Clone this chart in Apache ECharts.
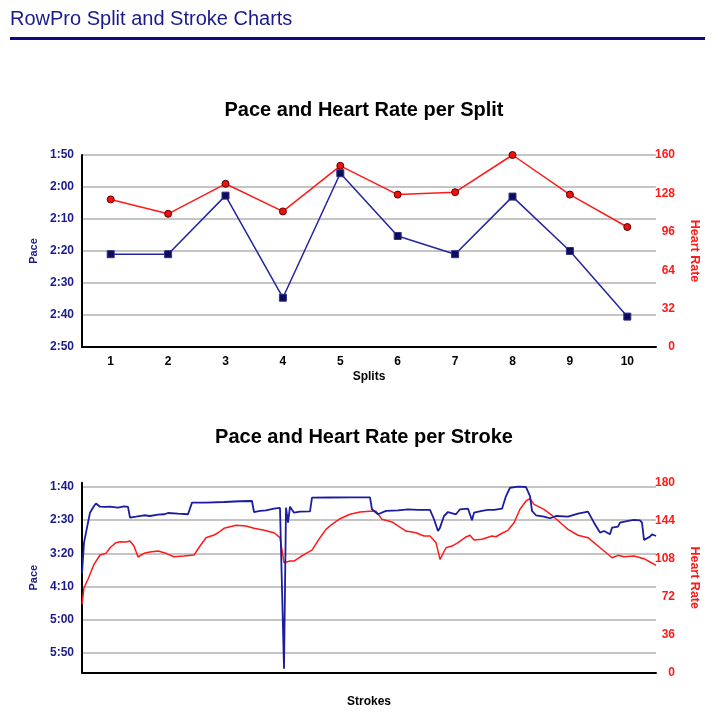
<!DOCTYPE html>
<html><head><meta charset="utf-8">
<script src="https://cdn.jsdelivr.net/npm/echarts@6/dist/echarts.min.js"></script>
<style>html,body{margin:0;padding:0;background:#fff}#c{width:718px;height:718px}</style>
</head><body><div id="c"></div>
<script>
// ---- Data ----
const splitCategories = ['1','2','3','4','5','6','7','8','9','10'];
const splitPace = [141, 141, 122.7, 154.6, 115.7, 135.3, 141, 123, 140, 160.5]; // seconds per 500m
const splitHeartRate = [123, 111, 136, 113, 151, 127, 129, 160, 127, 100];
const splitPaceTicks = [110, 120, 130, 140, 150, 160, 170];
const splitHeartRateTicks = [0, 32, 64, 96, 128, 160];

const strokePace = [
 [1,230.3],[2,183.9],[4,153.8],[5,138.7],[7,128.6],[8,124.8],[10,129.7],[12,130.1],[15,129.7],[19,131.2],
 [22,129.1],[24,130.1],[25,146.2],[28,144.7],[32,142.6],[35,143.7],[39,141.7],[42,141.1],[44,139.2],[49,140.2],
 [54,141.1],[56,123.6],[57,121.1],[63,123.6],[72,122.6],[80,121.5],[86,121.1],[87,137.7],[90,136.1],[93,135.1],
 [97,132.7],[100,131.6],[102,374.1],[103,131.2],[104,153.8],[105,129.7],[107,138.7],[110,137.2],[115,136.6],[116,116.1],
 [125,115.8],[135,115.5],[145,115.5],[146,133.6],[149,141.1],[153,136.1],[159,135.1],[164,133.6],[169,134.6],[175,134.6],
 [177,148.6],[179,166.3],[180,161.3],[182,143.7],[184,137.7],[188,141.1],[190,133.6],[194,132.7],[195,132.4],[196,150.2],
 [197,138.7],[201,136.1],[204,134.6],[207,134.6],[211,132.7],[212,133.6],[213,113.6],[215,101.1],[219,99.5],[223,100],
 [225,113.6],[226,136.1],[228,142.6],[232,144.7],[235,147.1],[238,143.7],[244,144.7],[249,140.2],[254,137.2],[255,137.2],
 [257,153.8],[259,163.7],[260,168.8],[262,166.3],[265,171.2],[266,161.3],[269,159.8],[270,153.8],[274,151.2],[277,149.7],
 [280,150.2],[281,153.8],[282,179.8],[285,174.8],[286,171.2],[288,173.8]
];
const strokeHeartRate = [
 [1,64.8],[2,80.5],[4,88.5],[7,102.7],[10,111.5],[13,113.1],[15,118.4],[18,123.2],[20,124.1],[23,123.8],
 [25,124.8],[27,120.0],[29,109.6],[32,113.1],[35,114.3],[39,115.3],[43,113.1],[47,109.9],[52,110.6],[57,111.5],
 [60,120.0],[63,127.9],[67,130.4],[69,132.6],[72,136.8],[75,138.3],[78,139.6],[83,139.0],[87,136.8],[92,134.9],
 [97,132.6],[100,127.9],[102,104.2],[105,105.8],[107,105.8],[110,109.6],[113,113.1],[116,116.2],[120,127.9],[123,135.8],
 [126,140.6],[130,145.9],[135,150.1],[140,152.2],[145,152.9],[148,152.9],[151,145.3],[156,142.8],[159,139.0],[163,134.2],
 [168,132.6],[172,129.5],[175,129.5],[178,123.2],[180,107.4],[183,118.4],[186,120.0],[189,123.2],[193,128.6],[195,130.2],
 [197,125.7],[201,126.4],[206,129.5],[208,128.8],[211,132.1],[214,134.9],[217,142.1],[220,154.8],[223,162.7],[225,164.8],
 [227,159.5],[232,154.8],[236,149.1],[241,140.6],[244,135.8],[249,130.2],[254,127.9],[259,120.0],[264,112.2],[266,108.9],
 [269,111.2],[272,109.9],[277,110.6],[282,108.0],[285,104.9],[288,101.7]
];
const strokeCount = 288;
const strokePaceTicks = [100, 150, 200, 250, 300, 350];
const strokeHeartRateTicks = [0, 36, 72, 108, 144, 180];

// ---- Chart ----
const FONT = '"Liberation Sans", Arial, Helvetica, sans-serif';
const NAVY = '#1a1a8c';
const RED = '#ff1a1a';
const GRIDC = '#b0b0b0';
function fmtPace(v){ const s = Math.round(v); return Math.floor(s/60) + ':' + String(s%60).padStart(2,'0'); }

const chart = echarts.init(document.getElementById('c'), null, {renderer:'canvas'});

const leftLabel = {color: NAVY, fontWeight:'bold', fontSize:12, fontFamily:FONT, margin:8, formatter: fmtPace};
const rightLabel = {color: RED, fontWeight:'bold', fontSize:12, fontFamily:FONT, align:'right', margin:19};
const axisLineBlack = {show:true, onZero:false, lineStyle:{color:'#000', width:2}};

chart.setOption({
  animation:false,
  backgroundColor:'#fff',
  graphic:[
    {type:'text', x:10, y:19, style:{text:'RowPro Split and Stroke Charts', font:'20px ' + FONT, fill:NAVY, align:'left', verticalAlign:'middle'}},
    {type:'rect', shape:{x:10, y:37, width:695, height:3}, style:{fill:'#0c0c80'}},
    {type:'text', x:364, y:110, style:{text:'Pace and Heart Rate per Split', font:'bold 20px ' + FONT, fill:'#000', align:'center', verticalAlign:'middle'}},
    {type:'text', x:364, y:437, style:{text:'Pace and Heart Rate per Stroke', font:'bold 20px ' + FONT, fill:'#000', align:'center', verticalAlign:'middle'}}
  ],
  grid:[
    {left:82, right:62, top:155, height:192},
    {left:82, right:62, top:482.7, height:190}
  ],
  xAxis:[
    {gridIndex:0, type:'category', data:splitCategories, boundaryGap:true,
     axisLine:axisLineBlack, axisTick:{show:false}, splitLine:{show:false},
     axisLabel:{color:'#000', fontWeight:'bold', fontSize:12, fontFamily:FONT, margin:9},
     name:'Splits', nameLocation:'middle', nameGap:24,
     nameTextStyle:{color:'#000', fontWeight:'bold', fontSize:12, fontFamily:FONT}},
    {gridIndex:1, type:'value', min:1, max:strokeCount,
     axisLine:axisLineBlack, axisTick:{show:false}, splitLine:{show:false}, axisLabel:{show:false},
     name:'Strokes', nameLocation:'middle', nameGap:23,
     nameTextStyle:{color:'#000', fontWeight:'bold', fontSize:12, fontFamily:FONT}}
  ],
  yAxis:[
    {gridIndex:0, type:'value', position:'left', inverse:true,
     min:splitPaceTicks[0], max:splitPaceTicks[splitPaceTicks.length-1], interval:splitPaceTicks[1]-splitPaceTicks[0],
     axisLine:axisLineBlack, axisTick:{show:false}, axisLabel:leftLabel,
     splitLine:{show:true, lineStyle:{color:GRIDC, width:1.5}},
     name:'Pace', nameLocation:'middle', nameGap:41, nameRotate:90,
     nameTextStyle:{color:NAVY, fontWeight:'bold', fontSize:11, fontFamily:FONT}},
    {gridIndex:0, type:'value', position:'right',
     min:splitHeartRateTicks[0], max:splitHeartRateTicks[splitHeartRateTicks.length-1], interval:splitHeartRateTicks[1]-splitHeartRateTicks[0],
     axisLine:{show:false}, axisTick:{show:false}, splitLine:{show:false}, axisLabel:rightLabel,
     name:'Heart Rate', nameLocation:'middle', nameGap:32, nameRotate:-90,
     nameTextStyle:{color:RED, fontWeight:'bold', fontSize:12.5, fontFamily:FONT}},
    {gridIndex:1, type:'value', position:'left', inverse:true, min:93.5, max:380,
     axisLine:axisLineBlack,
     axisTick:{show:false, customValues:strokePaceTicks},
     axisLabel:Object.assign({}, leftLabel, {customValues:strokePaceTicks}),
     splitLine:{show:true, lineStyle:{color:GRIDC, width:1.5}},
     name:'Pace', nameLocation:'middle', nameGap:41, nameRotate:90,
     nameTextStyle:{color:NAVY, fontWeight:'bold', fontSize:11, fontFamily:FONT}},
    {gridIndex:1, type:'value', position:'right',
     min:strokeHeartRateTicks[0], max:strokeHeartRateTicks[strokeHeartRateTicks.length-1], interval:strokeHeartRateTicks[1]-strokeHeartRateTicks[0],
     axisLine:{show:false}, axisTick:{show:false}, splitLine:{show:false}, axisLabel:rightLabel,
     name:'Heart Rate', nameLocation:'middle', nameGap:32, nameRotate:-90,
     nameTextStyle:{color:RED, fontWeight:'bold', fontSize:12.5, fontFamily:FONT}}
  ],
  series:[
    {type:'line', name:'Heart Rate', xAxisIndex:0, yAxisIndex:1, data:splitHeartRate,
     symbol:'circle', symbolSize:7,
     itemStyle:{color:'#f01010', borderColor:'#5a0000', borderWidth:1},
     lineStyle:{color:RED, width:1.5}, z:3},
    {type:'line', name:'Pace', xAxisIndex:0, yAxisIndex:0, data:splitPace,
     symbol:'rect', symbolSize:7,
     itemStyle:{color:'#0c0c5c', borderColor:'#30308a', borderWidth:1},
     lineStyle:{color:'#2424a0', width:1.5}, z:4},
    {type:'line', name:'Heart Rate', xAxisIndex:1, yAxisIndex:3, data:strokeHeartRate,
     showSymbol:false, symbol:'none', lineStyle:{color:RED, width:1.5}, z:3},
    {type:'line', name:'Pace', xAxisIndex:1, yAxisIndex:2, data:strokePace,
     showSymbol:false, symbol:'none', lineStyle:{color:'#1c1ca0', width:1.8}, z:4}
  ]
});
</script>
</body></html>
